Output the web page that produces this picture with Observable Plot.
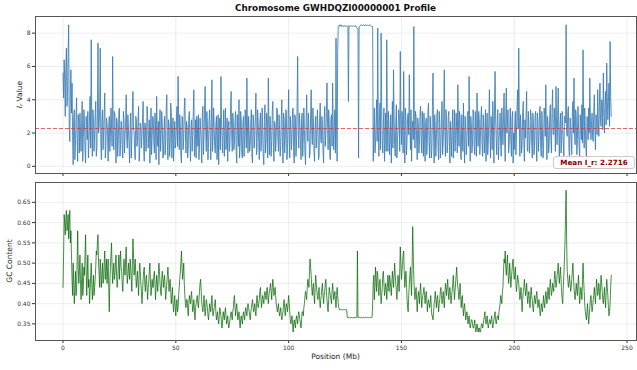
<!DOCTYPE html>
<html>
<head>
<meta charset="utf-8">
<script src="https://cdn.jsdelivr.net/npm/d3@7"></script>
<script src="https://cdn.jsdelivr.net/npm/@observablehq/plot@0.6"></script>
<style>
  html, body { margin: 0; padding: 0; background: #fff; }
  #wrap { position: relative; width: 637px; height: 370px; overflow: hidden; font-family: "DejaVu Sans", sans-serif; }
  #title { position: absolute; top: 3px; left: 35px; width: 601px; text-align: center; font-weight: bold; font-size: 8.8px; color: #111; }
  #topPanel, #botPanel { position: absolute; left: 0; }
  #topPanel { top: 0; }
  #botPanel { top: 175px; }
  #meanbox { position: absolute; left: 553px; top: 156px; width: 80px; height: 11px; line-height: 11px; border: 1px solid #d6c8c8; border-radius: 3px; background: rgba(255,255,255,0.92); color: #8b0000; font-weight: bold; font-size: 7.2px; text-align: center; }
</style>
</head>
<body>
<div id="wrap">
  <div id="topPanel"></div>
  <div id="botPanel"></div>
  <div id="title"></div>
  <div id="meanbox"></div>
</div>
<script>
const chromosome = "GWHDQZI00000001";
const meanIr = 2.2716;
const stepMb = 0.5;
const xTicks = [0, 50, 100, 150, 200, 250];
const irTicks = [0, 2, 4, 6, 8];
const gcTicks = [0.35, 0.40, 0.45, 0.50, 0.55, 0.60, 0.65];

// I_r values read at 0, 0.5, 1.0 ... Mb
const irValues = [
  5.6, 6.4, 3.0, 7.1, 4.2, 8.5, 1.5, 5.8, 5.0, 0.1,
  3.4, 1.2, 4.1, 0.3, 2.6, 3.2, 0.9, 3.9, 1.8, 2.7,
  0.2, 2.5, 3.3, 1.4, 4.2, 7.6, 0.6, 2.8, 1.9, 3.9,
  1.1, 7.4, 2.3, 7.1, 0.4, 3.4, 2.0, 4.4, 1.2, 2.6,
  0.3, 3.0, 1.8, 2.5, 6.6, 1.0, 3.1, 0.2, 2.7, 1.6,
  3.5, 1.3, 2.4, 0.5, 2.9, 1.9, 4.3, 1.1, 2.2, 0.2,
  3.2, 1.6, 4.5, 2.1, 0.4, 2.8, 1.5, 3.6, 0.9, 2.4,
  1.8, 3.9, 0.3, 2.5, 1.4, 3.1, 2.0, 0.2, 3.5, 1.7,
  2.9, 0.8, 2.3, 4.2, 1.2, 0.1, 3.4, 1.9, 2.6, 0.6,
  3.0, 1.6, 4.3, 0.4, 2.5, 1.3, 3.2, 2.0, 0.3, 2.7,
  1.5, 3.6, 5.4, 1.0, 2.3, 0.2, 2.9, 1.7, 4.1, 0.8,
  2.4, 1.1, 3.3, 0.3, 2.8, 1.9, 4.6, 1.4, 0.5, 2.6,
  3.1, 1.2, 2.2, 0.2, 3.6, 1.8, 4.8, 0.9, 2.5, 1.5,
  3.4, 0.4, 5.2, 1.7, 2.4, 0.8, 3.0, 1.3, 0.1, 2.9,
  5.4, 1.6, 2.2, 0.6, 3.5, 1.9, 0.3, 2.7, 1.4, 4.5,
  0.9, 2.6, 1.5, 3.3, 0.2, 2.1, 4.0, 1.2, 2.8, 0.5,
  3.0, 1.7, 2.4, 5.3, 0.8, 2.0, 1.3, 3.4, 0.2, 2.6,
  1.9, 4.4, 1.0, 2.7, 0.4, 3.2, 1.6, 2.3, 0.1, 3.7,
  1.4, 2.8, 5.3, 0.7, 2.1, 1.5, 3.9, 0.3, 2.5, 1.8,
  3.4, 0.9, 2.2, 1.3, 4.0, 0.2, 2.8, 1.6, 3.3, 1.0,
  4.6, 0.5, 2.4, 1.8, 3.5, 0.2, 2.9, 1.4, 6.6, 1.1,
  2.6, 0.4, 3.2, 1.7, 2.2, 0.1, 4.3, 1.5, 2.4, 0.8,
  4.6, 1.3, 2.7, 0.3, 3.0, 1.8, 2.2, 0.6, 3.8, 1.4,
  2.5, 0.2, 3.6, 1.9, 5.0, 1.0, 2.6, 0.4, 3.1, 5.0,
  1.0, 3.4, 7.7, 0.3, 8.4, 8.5, 8.45, 8.4, 8.45, 8.4,
  8.45, 8.4, 8.45, 3.9, 8.4, 8.45, 8.4, 8.45, 8.4, 8.45,
  8.35, 8.3, 0.5, 8.4, 8.5, 8.45, 8.5, 8.45, 8.5, 8.45,
  8.5, 8.45, 8.5, 8.45, 8.4, 0.3, 3.5, 1.2, 4.0, 8.3,
  0.6, 3.8, 8.0, 1.5, 2.6, 0.3, 3.2, 7.6, 0.9, 2.4,
  1.6, 0.2, 3.9, 5.8, 1.3, 2.6, 0.5, 2.2, 3.0, 6.9,
  1.3, 2.6, 5.7, 0.2, 2.8, 1.6, 3.2, 5.5, 1.0, 0.3,
  2.7, 8.4, 1.1, 3.0, 0.4, 2.5, 1.4, 3.6, 0.8, 2.2,
  3.2, 0.3, 2.9, 1.6, 3.8, 0.5, 2.2, 1.0, 5.6, 0.2,
  2.4, 1.7, 3.4, 0.4, 2.6, 1.1, 3.9, 1.4, 5.8, 0.6,
  2.7, 1.3, 3.3, 0.2, 1.8, 2.5, 0.5, 3.4, 1.6, 2.3,
  4.9, 1.2, 2.9, 0.4, 2.1, 3.8, 0.2, 2.2, 1.5, 3.3,
  5.4, 0.3, 2.5, 1.4, 3.0, 0.7, 2.1, 4.4, 1.2, 2.8,
  1.7, 3.6, 0.6, 2.3, 1.9, 0.3, 3.2, 1.4, 4.6, 0.5,
  2.0, 3.9, 0.2, 5.7, 1.6, 3.0, 0.4, 2.1, 1.2, 3.5,
  1.3, 4.4, 0.3, 4.7, 2.6, 0.8, 2.2, 1.5, 2.9, 0.2,
  1.0, 3.3, 1.9, 4.6, 7.1, 0.6, 2.4, 1.3, 3.9, 0.3,
  1.7, 4.5, 0.9, 2.4, 1.5, 3.0, 0.5, 2.6, 1.2, 3.3,
  0.3, 2.7, 1.8, 3.6, 0.6, 2.2, 1.0, 3.1, 4.9, 0.4,
  2.5, 1.4, 3.7, 0.8, 4.6, 1.9, 2.7, 4.8, 1.3, 4.7,
  0.5, 3.2, 1.4, 2.2, 0.6, 2.9, 8.5, 1.8, 3.6, 0.4,
  2.6, 0.7, 3.9, 5.3, 1.3, 3.0, 1.6, 2.5, 0.5, 2.4,
  3.7, 7.0, 1.1, 2.4, 0.4, 2.8, 3.5, 5.3, 1.6, 3.2,
  1.5, 4.3, 1.0, 2.7, 4.6, 1.8, 5.0, 2.4, 3.8, 5.6,
  2.0, 4.5, 6.2, 2.8, 5.0, 7.5, 3.0
];

// I_r values read at 0.25, 0.75, 1.25 ... Mb
const irMid = [
  4.1, 5.2, 6.0, 3.6, 6.8, 2.4, 4.6, 3.2, 1.8, 2.9,
  0.4, 2.8, 1.7, 3.1, 0.8, 1.9, 2.6, 0.3, 3.4, 1.0,
  3.0, 1.6, 0.5, 2.9, 1.1, 2.2, 3.4, 0.9, 3.1, 0.6,
  3.1, 2.0, 3.6, 1.5, 2.8, 1.0, 3.2, 0.5, 2.9, 1.8,
  2.4, 0.9, 3.5, 1.2, 2.0, 3.3, 1.5, 2.9, 0.6, 3.3,
  0.6, 2.7, 1.1, 3.3, 0.8, 2.6, 1.7, 3.1, 1.4, 2.5,
  0.5, 3.4, 2.2, 1.0, 3.0, 1.2, 2.9, 0.3, 2.6, 1.1,
  2.9, 1.2, 2.6, 0.9, 3.6, 1.1, 2.8, 1.6, 0.7, 3.0,
  1.5, 3.2, 0.4, 1.9, 2.7, 2.4, 0.9, 3.3, 0.5, 2.2,
  0.7, 3.5, 1.4, 2.8, 0.6, 3.8, 0.5, 2.9, 1.6, 1.1,
  2.6, 1.2, 2.9, 3.1, 0.6, 3.0, 1.0, 3.5, 2.0, 2.7,
  0.5, 3.0, 1.6, 2.4, 0.9, 3.3, 0.6, 2.8, 3.0, 1.2,
  0.4, 2.9, 1.4, 3.2, 0.7, 3.5, 2.1, 3.3, 0.4, 2.8,
  1.8, 2.7, 0.9, 3.5, 1.1, 2.5, 0.4, 3.1, 2.3, 1.0,
  2.8, 0.8, 3.4, 2.1, 1.0, 2.9, 2.4, 0.9, 3.4, 2.0,
  3.2, 1.0, 2.7, 0.9, 3.1, 1.2, 0.5, 3.3, 0.7, 2.6,
  0.6, 3.4, 1.1, 2.3, 3.0, 0.9, 2.8, 0.6, 3.1, 1.1,
  3.0, 0.7, 3.4, 1.5, 2.6, 0.9, 3.5, 0.6, 2.7, 0.8,
  3.2, 0.5, 2.5, 3.0, 0.6, 3.3, 1.2, 2.7, 0.9, 3.5,
  1.6, 3.1, 0.6, 2.9, 1.5, 3.2, 0.8, 3.4, 0.4, 2.7,
  1.9, 3.0, 1.0, 3.4, 0.8, 3.1, 0.6, 3.6, 2.0, 3.2,
  1.5, 2.9, 0.6, 3.5, 0.8, 2.7, 1.9, 3.2, 0.5, 3.1,
  2.1, 3.5, 0.9, 2.4, 1.1, 3.4, 0.4, 2.9, 1.6, 3.0,
  0.9, 2.8, 1.2, 3.3, 2.6, 3.4, 0.6, 2.9, 1.2, 2.4,
  2.4, 0.8, 2.2, 6.9, 8.45, 8.4, 8.5, 8.45, 8.4, 8.45,
  8.4, 8.45, 8.4, 8.45, 8.4, 8.45, 8.4, 8.45, 8.4, 8.45,
  8.3, 8.3, 8.4, 8.45, 8.5, 8.45, 8.5, 8.45, 8.5, 8.45,
  8.45, 8.5, 8.45, 8.4, 8.4, 2.0, 0.8, 2.6, 1.5, 2.2,
  2.7, 1.0, 3.4, 0.8, 3.5, 1.9, 0.9, 2.8, 3.3, 0.7,
  3.1, 2.0, 1.1, 3.0, 0.6, 3.7, 1.6, 3.4, 0.9, 2.5,
  3.3, 0.8, 2.4, 3.5, 0.7, 3.0, 1.9, 2.6, 3.4, 2.1,
  1.6, 2.4, 3.3, 1.5, 2.9, 0.8, 3.2, 1.7, 3.3, 0.6,
  1.5, 2.6, 0.7, 3.3, 1.4, 3.0, 0.5, 3.6, 2.0, 3.1,
  0.6, 3.2, 1.1, 3.3, 0.5, 2.9, 0.7, 3.2, 2.1, 3.4,
  0.8, 3.0, 1.5, 2.7, 0.6, 3.4, 2.2, 0.9, 3.2, 0.8,
  2.8, 3.3, 0.7, 3.1, 0.9, 1.6, 3.0, 0.7, 3.1, 1.2,
  2.2, 3.0, 0.8, 3.4, 1.2, 3.3, 0.6, 2.4, 3.3, 0.7,
  3.0, 1.2, 3.1, 0.8, 3.4, 2.0, 0.7, 2.9, 1.9, 3.0,
  1.0, 2.6, 3.2, 2.9, 0.7, 3.4, 1.5, 3.2, 0.6, 2.4,
  3.0, 1.7, 3.1, 2.0, 3.4, 1.3, 3.5, 0.6, 3.3, 2.0,
  2.5, 0.7, 3.6, 2.3, 3.0, 3.1, 0.8, 3.2, 1.5, 2.8,
  3.1, 1.2, 3.3, 0.8, 3.4, 1.4, 3.2, 0.7, 3.0, 1.5,
  3.2, 0.9, 3.4, 1.1, 3.3, 0.5, 3.5, 1.8, 2.2, 3.0,
  0.8, 3.1, 1.6, 3.4, 2.0, 3.5, 0.9, 2.6, 3.0, 2.2,
  2.4, 0.8, 3.3, 1.4, 3.0, 2.6, 2.0, 3.3, 1.1, 2.9,
  1.5, 3.2, 2.0, 1.8, 3.4, 0.7, 3.6, 1.2, 3.1, 1.6,
  1.4, 2.9, 3.5, 1.2, 3.0, 1.6, 2.0, 2.9, 2.5, 1.7,
  3.2, 2.2, 3.1, 1.9, 2.8, 3.6, 2.7, 4.0, 2.2, 3.4,
  3.6, 2.5, 4.1, 3.9, 2.4, 4.2
];

// GC content read at 0, 0.5, 1.0 ... Mb
const gcValues = [
  0.44, 0.62, 0.57, 0.63, 0.59, 0.56, 0.63, 0.58, 0.46, 0.50,
  0.40, 0.48, 0.43, 0.58, 0.45, 0.52, 0.41, 0.50, 0.44, 0.47,
  0.57, 0.42, 0.52, 0.46, 0.43, 0.50, 0.41, 0.47, 0.44, 0.49,
  0.52, 0.57, 0.47, 0.51, 0.44, 0.50, 0.46, 0.53, 0.48, 0.45,
  0.51, 0.38, 0.49, 0.55, 0.45, 0.50, 0.47, 0.52, 0.44, 0.49,
  0.46, 0.53, 0.48, 0.43, 0.51, 0.47, 0.54, 0.45, 0.50, 0.46,
  0.49, 0.43, 0.56, 0.47, 0.51, 0.44, 0.48, 0.42, 0.50, 0.45,
  0.40, 0.46, 0.49, 0.43, 0.47, 0.41, 0.45, 0.50, 0.42, 0.46,
  0.44, 0.48, 0.41, 0.47, 0.43, 0.50, 0.45, 0.42, 0.48, 0.44,
  0.47, 0.41, 0.45, 0.49, 0.43, 0.46, 0.40, 0.44, 0.38, 0.42,
  0.37, 0.41, 0.39, 0.44, 0.48, 0.53, 0.46, 0.50, 0.42, 0.39,
  0.41, 0.37, 0.42, 0.40, 0.43, 0.38, 0.41, 0.36, 0.40, 0.42,
  0.39, 0.43, 0.46, 0.40, 0.38, 0.42, 0.37, 0.41, 0.39, 0.36,
  0.40, 0.38, 0.42, 0.37, 0.39, 0.41, 0.36, 0.38, 0.35, 0.39,
  0.37, 0.34, 0.38, 0.36, 0.39, 0.35, 0.37, 0.34, 0.36, 0.38,
  0.36, 0.39, 0.42, 0.37, 0.40, 0.36, 0.38, 0.34, 0.37, 0.35,
  0.38, 0.36, 0.39, 0.37, 0.40, 0.38, 0.36, 0.39, 0.41, 0.38,
  0.40, 0.37, 0.42, 0.39, 0.41, 0.44, 0.39, 0.42, 0.40, 0.43,
  0.41, 0.44, 0.40, 0.43, 0.45, 0.41, 0.46, 0.42, 0.44, 0.40,
  0.38, 0.40, 0.37, 0.39, 0.36, 0.38, 0.41, 0.37, 0.40, 0.38,
  0.42, 0.38, 0.35, 0.37, 0.33, 0.36, 0.34, 0.37, 0.35, 0.38,
  0.36, 0.34, 0.38, 0.37, 0.40, 0.43, 0.41, 0.46, 0.44, 0.51,
  0.47, 0.42, 0.45, 0.40, 0.47, 0.43, 0.41, 0.44, 0.39, 0.42,
  0.45, 0.40, 0.43, 0.46, 0.41, 0.38, 0.44, 0.42, 0.40, 0.45,
  0.41, 0.43, 0.39, 0.44, 0.40, 0.385, 0.385, 0.385, 0.385, 0.385,
  0.385, 0.385, 0.366, 0.366, 0.366, 0.364, 0.366, 0.366, 0.364, 0.366,
  0.366, 0.53, 0.366, 0.366, 0.365, 0.366, 0.366, 0.365, 0.366, 0.366,
  0.366, 0.365, 0.366, 0.366, 0.366, 0.45, 0.41, 0.49, 0.43, 0.47,
  0.42, 0.46, 0.40, 0.44, 0.48, 0.42, 0.45, 0.41, 0.47, 0.43,
  0.46, 0.42, 0.48, 0.44, 0.50, 0.45, 0.41, 0.47, 0.43, 0.54,
  0.46, 0.50, 0.53, 0.44, 0.48, 0.41, 0.38, 0.45, 0.49, 0.42,
  0.59, 0.46, 0.41, 0.44, 0.38, 0.43, 0.40, 0.45, 0.39, 0.42,
  0.44, 0.40, 0.43, 0.38, 0.41, 0.39, 0.42, 0.37, 0.36, 0.40,
  0.43, 0.39, 0.42, 0.38, 0.41, 0.44, 0.40, 0.43, 0.39, 0.45,
  0.42, 0.46, 0.41, 0.44, 0.40, 0.43, 0.47, 0.41, 0.45, 0.49,
  0.44, 0.41, 0.45, 0.39, 0.42, 0.37, 0.40, 0.36, 0.38, 0.35,
  0.37, 0.34, 0.36, 0.35, 0.34, 0.36, 0.33, 0.35, 0.33, 0.34,
  0.33, 0.35, 0.34, 0.36, 0.38, 0.35, 0.37, 0.34, 0.36, 0.35,
  0.37, 0.34, 0.36, 0.38, 0.35, 0.37, 0.36, 0.39, 0.42, 0.40,
  0.44, 0.51, 0.53, 0.47, 0.52, 0.45, 0.50, 0.44, 0.48, 0.51,
  0.46, 0.49, 0.43, 0.47, 0.45, 0.41, 0.44, 0.38, 0.43, 0.46,
  0.42, 0.45, 0.40, 0.43, 0.39, 0.44, 0.41, 0.38, 0.42, 0.40,
  0.43, 0.39, 0.41, 0.37, 0.40, 0.38, 0.42, 0.39, 0.43, 0.40,
  0.44, 0.41, 0.46, 0.42, 0.45, 0.43, 0.48, 0.44, 0.47, 0.50,
  0.45, 0.49, 0.43, 0.40, 0.47, 0.55, 0.68, 0.48, 0.44, 0.47,
  0.43, 0.46, 0.50, 0.44, 0.41, 0.45, 0.42, 0.47, 0.40, 0.44,
  0.41, 0.50, 0.43, 0.38, 0.36, 0.40, 0.35, 0.39, 0.42, 0.38,
  0.41, 0.44, 0.40, 0.46, 0.42, 0.45, 0.41, 0.47, 0.43, 0.40,
  0.44, 0.39, 0.46, 0.42, 0.37, 0.40, 0.47
];

// GC content read at 0.25, 0.75, 1.25 ... Mb
const gcMid = [
  0.52, 0.60, 0.61, 0.58, 0.62, 0.60, 0.55, 0.52, 0.42, 0.45,
  0.44, 0.42, 0.50, 0.49, 0.48, 0.45, 0.46, 0.42, 0.49, 0.52,
  0.48, 0.47, 0.44, 0.40, 0.47, 0.45, 0.44, 0.42, 0.46, 0.53,
  0.55, 0.50, 0.44, 0.48, 0.47, 0.45, 0.50, 0.46, 0.51, 0.48,
  0.44, 0.45, 0.52, 0.49, 0.48, 0.46, 0.50, 0.47, 0.46, 0.52,
  0.50, 0.49, 0.45, 0.47, 0.49, 0.51, 0.48, 0.47, 0.48, 0.51,
  0.46, 0.50, 0.52, 0.49, 0.47, 0.46, 0.45, 0.47, 0.48, 0.43,
  0.43, 0.48, 0.45, 0.46, 0.44, 0.44, 0.48, 0.46, 0.44, 0.44,
  0.47, 0.45, 0.44, 0.45, 0.47, 0.48, 0.43, 0.46, 0.46, 0.46,
  0.44, 0.43, 0.47, 0.46, 0.45, 0.43, 0.42, 0.40, 0.40, 0.39,
  0.40, 0.38, 0.42, 0.46, 0.50, 0.49, 0.48, 0.45, 0.40, 0.41,
  0.39, 0.40, 0.41, 0.42, 0.40, 0.39, 0.38, 0.39, 0.41, 0.40,
  0.41, 0.45, 0.43, 0.39, 0.40, 0.39, 0.39, 0.40, 0.37, 0.38,
  0.39, 0.40, 0.39, 0.38, 0.40, 0.38, 0.37, 0.36, 0.37, 0.38,
  0.35, 0.36, 0.37, 0.38, 0.37, 0.36, 0.35, 0.35, 0.37, 0.37,
  0.38, 0.41, 0.39, 0.39, 0.38, 0.37, 0.36, 0.36, 0.36, 0.37,
  0.37, 0.38, 0.38, 0.39, 0.39, 0.37, 0.38, 0.40, 0.39, 0.39,
  0.38, 0.40, 0.40, 0.40, 0.43, 0.41, 0.41, 0.41, 0.42, 0.42,
  0.43, 0.42, 0.42, 0.44, 0.43, 0.44, 0.44, 0.43, 0.42, 0.39,
  0.39, 0.38, 0.38, 0.37, 0.37, 0.40, 0.39, 0.39, 0.39, 0.40,
  0.40, 0.36, 0.36, 0.35, 0.35, 0.35, 0.36, 0.36, 0.37, 0.37,
  0.35, 0.36, 0.38, 0.39, 0.42, 0.42, 0.44, 0.45, 0.48, 0.49,
  0.44, 0.44, 0.42, 0.44, 0.45, 0.42, 0.43, 0.41, 0.41, 0.44,
  0.42, 0.42, 0.45, 0.43, 0.39, 0.41, 0.43, 0.41, 0.43, 0.43,
  0.42, 0.41, 0.42, 0.42, 0.39, 0.385, 0.385, 0.385, 0.385, 0.385,
  0.385, 0.385, 0.366, 0.365, 0.366, 0.366, 0.365, 0.366, 0.366, 0.366,
  0.366, 0.366, 0.366, 0.366, 0.366, 0.365, 0.366, 0.366, 0.366, 0.365,
  0.366, 0.366, 0.366, 0.366, 0.40, 0.47, 0.44, 0.46, 0.48, 0.44,
  0.45, 0.43, 0.42, 0.47, 0.45, 0.43, 0.44, 0.44, 0.45, 0.47,
  0.44, 0.45, 0.46, 0.47, 0.47, 0.43, 0.44, 0.45, 0.48, 0.50,
  0.48, 0.52, 0.48, 0.46, 0.45, 0.39, 0.42, 0.47, 0.45, 0.50,
  0.52, 0.43, 0.43, 0.41, 0.41, 0.42, 0.43, 0.42, 0.41, 0.43,
  0.42, 0.42, 0.41, 0.40, 0.40, 0.40, 0.39, 0.37, 0.38, 0.41,
  0.41, 0.41, 0.40, 0.40, 0.43, 0.42, 0.41, 0.41, 0.42, 0.44,
  0.44, 0.43, 0.43, 0.42, 0.42, 0.45, 0.44, 0.43, 0.47, 0.46,
  0.43, 0.43, 0.42, 0.41, 0.39, 0.39, 0.38, 0.37, 0.37, 0.36,
  0.35, 0.35, 0.36, 0.34, 0.35, 0.34, 0.34, 0.34, 0.34, 0.33,
  0.34, 0.35, 0.35, 0.37, 0.36, 0.36, 0.35, 0.35, 0.36, 0.36,
  0.35, 0.35, 0.37, 0.36, 0.36, 0.37, 0.38, 0.40, 0.41, 0.43,
  0.48, 0.50, 0.49, 0.50, 0.48, 0.47, 0.47, 0.46, 0.50, 0.48,
  0.47, 0.45, 0.45, 0.46, 0.43, 0.42, 0.41, 0.41, 0.44, 0.44,
  0.43, 0.42, 0.42, 0.41, 0.42, 0.42, 0.39, 0.40, 0.41, 0.42,
  0.41, 0.40, 0.39, 0.38, 0.39, 0.40, 0.40, 0.41, 0.42, 0.42,
  0.42, 0.44, 0.44, 0.43, 0.44, 0.46, 0.46, 0.45, 0.48, 0.47,
  0.47, 0.46, 0.41, 0.44, 0.51, 0.62, 0.55, 0.46, 0.45, 0.45,
  0.44, 0.48, 0.47, 0.42, 0.43, 0.43, 0.45, 0.43, 0.42, 0.43,
  0.46, 0.46, 0.40, 0.37, 0.38, 0.37, 0.37, 0.41, 0.40, 0.39,
  0.42, 0.42, 0.43, 0.44, 0.43, 0.43, 0.44, 0.45, 0.41, 0.42,
  0.41, 0.43, 0.44, 0.39, 0.38, 0.44
];

const byPos = (a, b) => a.pos - b.pos;
const irData = [
  ...irValues.map((v, i) => ({pos: i * stepMb, ir: v})),
  ...irMid.map((v, i) => ({pos: i * stepMb + stepMb / 2, ir: v}))
].sort(byPos);
const gcData = [
  ...gcValues.map((v, i) => ({pos: i * stepMb, gc: v})),
  ...gcMid.map((v, i) => ({pos: i * stepMb + stepMb / 2, gc: v}))
].sort(byPos);

const xDomain = [-12.2, 254.2];
const gridStyle = {stroke: "#d9d9d9", strokeOpacity: 0.8, strokeWidth: 0.6};
const baseStyle = {fontFamily: "DejaVu Sans, sans-serif", fontSize: "6px", color: "#333", background: "transparent", overflow: "visible"};

document.getElementById("title").textContent = `Chromosome ${chromosome} Profile`;
document.getElementById("meanbox").textContent = `Mean I_r: ${meanIr.toFixed(4)}`;

const topChart = Plot.plot({
  width: 637, height: 180,
  marginLeft: 35, marginRight: 1, marginTop: 16, marginBottom: 7,
  style: baseStyle,
  x: {domain: xDomain, ticks: xTicks, tickFormat: () => "", label: null, tickSize: 3},
  y: {domain: [-0.43, 9.0], ticks: irTicks, label: null, tickSize: 3, tickPadding: 2},
  marks: [
    Plot.gridX(xTicks, gridStyle),
    Plot.gridY(irTicks, gridStyle),
    Plot.line(irData, {x: "pos", y: "ir", stroke: "#3a7bb4", strokeWidth: 1.0, strokeOpacity: 0.85}),
    Plot.ruleY([meanIr], {stroke: "#e03030", strokeDasharray: "4,2", strokeWidth: 0.9, strokeOpacity: 0.85}),
    Plot.frame({stroke: "#555", strokeWidth: 1})
  ]
});
document.getElementById("topPanel").appendChild(topChart);

const botChart = Plot.plot({
  width: 637, height: 195,
  marginLeft: 35, marginRight: 1, marginTop: 7, marginBottom: 30,
  style: baseStyle,
  x: {domain: xDomain, ticks: xTicks, label: null, tickSize: 3, tickPadding: 2},
  y: {domain: [0.309, 0.699], ticks: gcTicks, tickFormat: d3.format(".2f"), label: null, tickSize: 3, tickPadding: 2},
  marks: [
    Plot.gridX(xTicks, gridStyle),
    Plot.gridY(gcTicks, gridStyle),
    Plot.line(gcData, {x: "pos", y: "gc", stroke: "#006400", strokeWidth: 0.9, strokeOpacity: 0.8}),
    Plot.frame({stroke: "#555", strokeWidth: 1})
  ]
});
document.getElementById("botPanel").appendChild(botChart);

// axis titles
const topSvg = d3.select(topChart);
const yl = topSvg.append("text")
  .attr("transform", "translate(20,94.5) rotate(-90)")
  .attr("text-anchor", "middle")
  .attr("dominant-baseline", "middle")
  .attr("font-size", "7.5px").attr("fill", "#222");
yl.append("tspan").attr("font-style", "italic").text("I");
yl.append("tspan").attr("font-style", "italic").attr("font-size", "5px").attr("dy", "1.5").text("r");
yl.append("tspan").attr("dy", "-1.5").text(" Value");

const botSvg = d3.select(botChart);
botSvg.append("text")
  .attr("transform", "translate(10,86) rotate(-90)")
  .attr("text-anchor", "middle").attr("dominant-baseline", "middle")
  .attr("font-size", "7.5px").attr("fill", "#222")
  .text("GC Content");
botSvg.append("text")
  .attr("x", 335.5).attr("y", 182)
  .attr("text-anchor", "middle").attr("dominant-baseline", "middle")
  .attr("font-size", "7.5px").attr("fill", "#222")
  .text("Position (Mb)");
</script>
</body>
</html>
